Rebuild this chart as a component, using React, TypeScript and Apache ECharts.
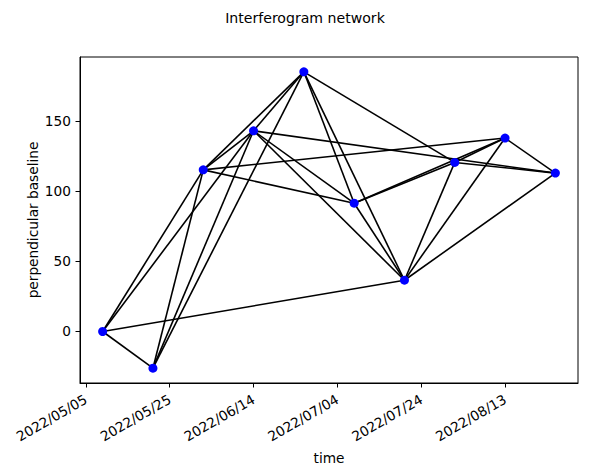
import React, { useEffect, useRef } from "react";
import * as echarts from "echarts";

// Acquisition dates and perpendicular baselines
const dates = [
  "2022-05-09", "2022-05-21", "2022-06-02", "2022-06-14", "2022-06-26",
  "2022-07-08", "2022-07-20", "2022-08-01", "2022-08-13", "2022-08-25",
];
const baselines = [0, -26.2, 115.4, 143.3, 185.4, 91.6, 36.6, 120.7, 138.1, 113.1];

// Interferogram pairs (indices into dates)
const pairs: [number, number][] = [
  [0, 1], [0, 2], [0, 3], [0, 6],
  [1, 2], [1, 3], [1, 4],
  [2, 3], [2, 4], [2, 5], [2, 8],
  [3, 4], [3, 5], [3, 6], [3, 9],
  [4, 5], [4, 6], [4, 7],
  [5, 6], [5, 7], [5, 8],
  [6, 7], [6, 8], [6, 9],
  [7, 8], [7, 9],
  [8, 9],
];

const xTickDates = ["2022-05-05", "2022-05-25", "2022-06-14", "2022-07-04", "2022-07-24", "2022-08-13"];
const yTicks = [0, 50, 100, 150];

const toTs = (s: string) => {
  const [y, m, d] = s.split("-").map(Number);
  return Date.UTC(y, m - 1, d);
};
const pad = (n: number) => (n < 10 ? "0" + n : "" + n);
const fmt = (v: number) => {
  const d = new Date(v);
  return `${d.getUTCFullYear()}/${pad(d.getUTCMonth() + 1)}/${pad(d.getUTCDate())}`;
};

export default function App() {
  const ref = useRef<HTMLDivElement>(null);
  useEffect(() => {
    if (!ref.current) return;
    const chart = echarts.init(ref.current, null, { renderer: "svg" });
    const ts = dates.map(toTs);
    const tMin = Math.min(...ts), tMax = Math.max(...ts);
    const bMin = Math.min(...baselines), bMax = Math.max(...baselines);
    const tr = tMax - tMin, br = bMax - bMin;
    const font = "DejaVu Sans";
    chart.setOption({
      animation: false,
      textStyle: { fontFamily: font, color: "#000" },
      graphic: [
        {
          type: "text",
          x: 305,
          y: 18,
          style: {
            text: "Interferogram network",
            fontFamily: font,
            fontSize: 14.1,
            fill: "#000",
            textAlign: "center",
            textVerticalAlign: "middle",
          },
        },
      ],
      grid: {
        left: 80, top: 57, width: 498, height: 326,
        show: true, borderColor: "#000", borderWidth: 1, backgroundColor: "transparent",
      },
      xAxis: {
        type: "value",
        min: tMin - 0.05 * tr,
        max: tMax + 0.05 * tr,
        splitLine: { show: false },
        axisLine: { show: true, onZero: false, lineStyle: { color: "#000", width: 1 } },
        axisTick: { show: true, length: 4.5, lineStyle: { color: "#000" }, customValues: xTickDates.map(toTs) },
        axisLabel: {
          customValues: xTickDates.map(toTs),
          formatter: (v: number) => fmt(v),
          rotate: 30,
          margin: 15,
          fontFamily: font,
          fontSize: 13.7,
          color: "#000",
        },
        name: "time",
        nameLocation: "middle",
        nameGap: 68,
        nameMoveOverlap: false,
        nameTextStyle: { fontFamily: font, fontSize: 13.7, color: "#000" },
      },
      yAxis: {
        type: "value",
        min: bMin - 0.05 * br,
        max: bMax + 0.05 * br,
        splitLine: { show: false },
        axisLine: { show: true, onZero: false, lineStyle: { color: "#000", width: 1 } },
        axisTick: { show: true, length: 4.5, lineStyle: { color: "#000" }, customValues: yTicks },
        axisLabel: {
          customValues: yTicks,
          margin: 9,
          fontFamily: font,
          fontSize: 13.7,
          color: "#000",
        },
        name: "perpendicular baseline",
        nameLocation: "middle",
        nameGap: 40,
        nameMoveOverlap: false,
        nameTextStyle: { fontFamily: font, fontSize: 13.7, color: "#000" },
      },
      series: [
        {
          type: "lines",
          coordinateSystem: "cartesian2d",
          z: 2,
          lineStyle: { color: "#000", width: 1.6, opacity: 1 },
          data: pairs.map(([a, b]) => ({
            coords: [[ts[a], baselines[a]], [ts[b], baselines[b]]],
          })),
        },
        {
          type: "scatter",
          z: 3,
          symbol: "circle",
          symbolSize: 9,
          itemStyle: { color: "#0000ff", opacity: 1 },
          data: ts.map((t, i) => [t, baselines[i]]),
        },
      ],
    });
    return () => chart.dispose();
  }, []);
  return (
    <div
      ref={ref}
      style={{ position: "absolute", left: 0, top: 0, width: 589, height: 475 }}
    />
  );
}
